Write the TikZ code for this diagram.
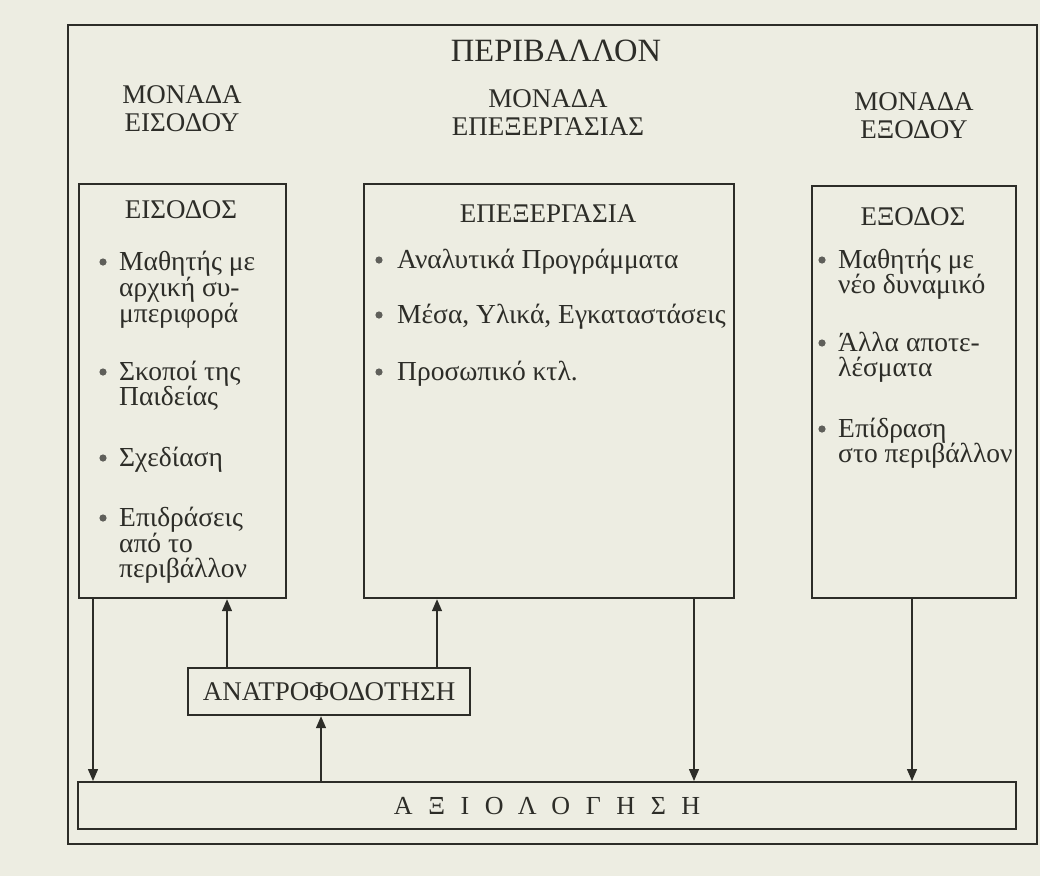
\documentclass[tikz,border=0pt]{standalone}
\usepackage{fontspec}
\setmainfont{Liberation Serif}
\usetikzlibrary{arrows.meta}
\definecolor{paper}{RGB}{237,237,226}
\definecolor{ink}{RGB}{45,45,40}
\definecolor{dotc}{RGB}{95,95,90}
\tikzset{
  box/.style={draw=ink, line width=2.2pt, anchor=north west, inner sep=0pt, text=ink},
  arr/.style={draw=ink, line width=1.4pt, -{Triangle[length=12pt,width=10pt]}},
  head/.style={text=ink, font=\fontsize{27}{28}\selectfont, anchor=base, inner sep=0pt},
  item/.style={text=ink, font=\fontsize{27.5}{28}\selectfont, anchor=base west, inner sep=0pt},
}
\begin{document}
\begin{tikzpicture}[x=1pt,y=-1pt]
  \fill[paper] (0,0) rectangle (1040,876);
  % frames
  \node[box, minimum width=969, minimum height=819] (env) at (67,24) {};
  \node[box, minimum width=207, minimum height=414] (in) at (78,183) {};
  \node[box, minimum width=370, minimum height=414] (proc) at (363,183) {};
  \node[box, minimum width=204, minimum height=412] (out) at (811,185) {};
  \node[box, minimum width=282, minimum height=47,
        font=\fontsize{27}{28}\selectfont] (fb) at (187,667) {ΑΝΑΤΡΟΦΟΔΟΤΗΣΗ};
  \node[box, minimum width=938, minimum height=47,
        font=\fontsize{26}{28}\selectfont\addfontfeature{LetterSpace=60}] (eval) at (77,781) {ΑΞΙΟΛΟΓΗΣΗ};
  % titles
  \node[head, font=\fontsize{32.5}{34}\selectfont] (envlbl) at (556,61) {ΠΕΡΙΒΑΛΛΟΝ};
  \foreach \n/\x/\y/\t in {u1a/182/103/ΜΟΝΑΔΑ, u1b/182/131/ΕΙΣΟΔΟΥ,
      u2a/548/107/ΜΟΝΑΔΑ, u2b/548/135/ΕΠΕΞΕΡΓΑΣΙΑΣ,
      u3a/914/110/ΜΟΝΑΔΑ, u3b/914/138/ΕΞΟΔΟΥ}
    \node[head] (\n) at (\x,\y) {\t};
  \node[head] (inlbl) at (181,218) {ΕΙΣΟΔΟΣ};
  \node[head] (proclbl) at (548,222) {ΕΠΕΞΕΡΓΑΣΙΑ};
  \node[head] (outlbl) at (913,225) {ΕΞΟΔΟΣ};
  % lists
  \foreach \t/\yb [count=\i] in {Μαθητής με/270, αρχική συ-/296, μπεριφορά/322,
      Σκοποί της/380, Παιδείας/405, Σχεδίαση/466,
      Επιδράσεις/526, από το/552, περιβάλλον/577}
    \node[item] (in\i) at (119,\yb) {\t};
  \foreach \t/\yb [count=\i] in {Αναλυτικά Προγράμματα/268,
      {Μέσα, Υλικά, Εγκαταστάσεις}/323, Προσωπικό κτλ./380}
    \node[item] (proc\i) at (397,\yb) {\t};
  \foreach \t/\yb [count=\i] in {Μαθητής με/268, νέο δυναμικό/293,
      Άλλα αποτε-/351, λέσματα/376, Επίδραση/437, στο περιβάλλον/462}
    \node[item] (out\i) at (838,\yb) {\t};
  \foreach \x/\yb in {103/270, 103/380, 103/466, 103/526,
      379/268, 379/323, 379/380, 822/268, 822/351, 822/437}
    \fill[dotc] (\x,\yb-8) circle (3.6);
  % arrows
  \foreach \a/\b/\x in {in.south/eval.north/93, fb.north/in.south/227,
      fb.north/proc.south/437, eval.north/fb.south/321,
      proc.south/eval.north/694, out.south/eval.north/912}
    \draw[arr] (\a -| \x,0) -- (\b -| \x,0);
\end{tikzpicture}
\end{document}
